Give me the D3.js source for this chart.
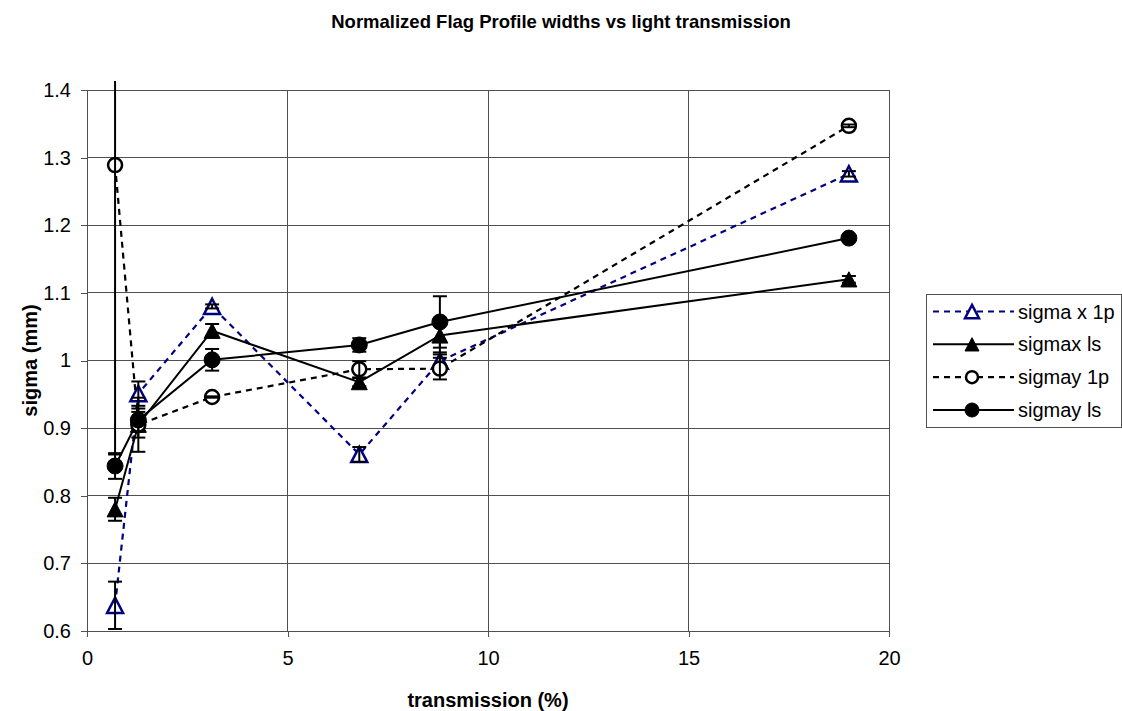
<!DOCTYPE html>
<html><head><meta charset="utf-8">
<script src="https://cdn.jsdelivr.net/npm/d3@7"></script>
<style>body{margin:0;background:#fff}svg{display:block;font-family:"Liberation Sans",Arial,sans-serif}</style>
</head><body><svg id="c" width="1122" height="711"></svg>
<script>
const xValues = [0.7, 1.28, 3.12, 6.79, 8.8, 19.0];
const sigmaX1p = [0.638, 0.951, 1.080, 0.861, 0.999, 1.276];
const sigmaX1pErr = [0.035, 0.018, 0.003, 0.011, 0.01, 0.004];
const sigmaxLs = [0.780, 0.905, 1.044, 0.968, 1.037, 1.120];
const sigmaxLsErr = [0.017, 0.04, 0.01, 0.006, 0.025, 0.005];
const sigmay1p = [1.289, 0.905, 0.946, 0.987, 0.988, 1.347];
const sigmay1pErr = [0.428, 0.019, 0.001, 0.012, 0.016, 0.002];
const sigmayLs = [0.844, 0.912, 1.001, 1.023, 1.057, 1.181];
const sigmayLsErr = [0.019, 0.017, 0.016, 0.01, 0.038, 0.003];
const xTicks = [0, 5, 10, 15, 20];
const yTicks = [0.6, 0.7, 0.8, 0.9, 1.0, 1.1, 1.2, 1.3, 1.4];
const seriesNames = ["sigma x 1p", "sigmax ls", "sigmay 1p", "sigmay ls"];

const svg = d3.select("#c");
const L = 87, R = 889, T = 90, B = 631;
const x = d3.scaleLinear().domain([0, 20]).range([L, R]);
const y = d3.scaleLinear().domain([0.6, 1.4]).range([B, T]);

const series = [
  {name: seriesNames[0], v: sigmaX1p, e: sigmaX1pErr, color: "#000080", dash: "6,5", marker: "tri", fill: "#fff", lw: 2.2},
  {name: seriesNames[1], v: sigmaxLs, e: sigmaxLsErr, color: "#000", dash: null, marker: "tri", fill: "#000", lw: 2},
  {name: seriesNames[2], v: sigmay1p, e: sigmay1pErr, color: "#000", dash: "6,5", marker: "circ", fill: "#fff", lw: 2.2},
  {name: seriesNames[3], v: sigmayLs, e: sigmayLsErr, color: "#000", dash: null, marker: "circ", fill: "#000", lw: 2}
];

svg.append("defs").append("clipPath").attr("id", "clip")
  .append("rect").attr("x", L).attr("y", 81).attr("width", R - L).attr("height", B - 81);

// grid
const g = svg.append("g");
g.selectAll("line.h").data(yTicks).join("line")
  .attr("x1", L).attr("x2", R).attr("y1", d => y(d)).attr("y2", d => y(d))
  .attr("stroke", "#505050").attr("stroke-width", 1).attr("shape-rendering", "crispEdges");
g.selectAll("line.v").data(xTicks.slice(1)).join("line")
  .attr("x1", d => x(d)).attr("x2", d => x(d)).attr("y1", T).attr("y2", B)
  .attr("stroke", "#505050").attr("stroke-width", 1).attr("shape-rendering", "crispEdges");

// axes
const yAxis = svg.append("g").attr("transform", `translate(${L},0)`)
  .call(d3.axisLeft(y).tickValues(yTicks).tickSize(6).tickPadding(10)
    .tickFormat(d => d === 1 ? "1" : d3.format(".1f")(d)));
const xAxis = svg.append("g").attr("transform", `translate(0,${B})`)
  .call(d3.axisBottom(x).tickValues(xTicks).tickSize(6).tickPadding(14));
[yAxis, xAxis].forEach(a => {
  a.select(".domain").attr("stroke", "#505050").attr("shape-rendering", "crispEdges");
  a.selectAll(".tick line").attr("stroke", "#505050").attr("shape-rendering", "crispEdges");
  a.selectAll("text").attr("font-size", 20).attr("fill", "#000")
    .attr("font-family", '"Liberation Sans",Arial,sans-serif');
});
xAxis.select(".domain").attr("d", `M${L},0H${R}`);

// lines
const lineGen = d3.line().x((d, i) => x(xValues[i])).y(d => y(d));
series.forEach(s => {
  svg.append("path").attr("d", lineGen(s.v)).attr("fill", "none")
    .attr("stroke", s.color).attr("stroke-width", s.lw)
    .attr("stroke-dasharray", s.dash);
});

function drawMarker(sel, type, cx, cy, fill, stroke, size) {
  if (type === "tri") {
    const h = size * 0.95, w = size;
    sel.append("path").attr("d", `M${cx},${cy - h / 2}L${cx + w / 2},${cy + h / 2}L${cx - w / 2},${cy + h / 2}Z`)
      .attr("fill", fill).attr("stroke", stroke).attr("stroke-width", fill === "#fff" ? 2.5 : 1)
      .attr("stroke-linejoin", "miter");
  } else {
    sel.append("circle").attr("cx", cx).attr("cy", cy).attr("r", fill === "#fff" ? size / 2 - 1 : size / 2)
      .attr("fill", fill).attr("stroke", stroke).attr("stroke-width", fill === "#fff" ? 2.5 : 1);
  }
}

// markers and error bars
series.forEach(s => {
  const mg = svg.append("g");
  s.v.forEach((v, i) => drawMarker(mg, s.marker, x(xValues[i]), y(v), s.fill, s.color, 16));
  const eg = svg.append("g").attr("clip-path", "url(#clip)");
  s.v.forEach((v, i) => {
    const cx = x(xValues[i]), y1 = y(v + s.e[i]), y2 = y(v - s.e[i]);
    eg.append("line").attr("x1", cx).attr("x2", cx).attr("y1", y1).attr("y2", y2)
      .attr("stroke", "#000").attr("stroke-width", 2);
    [y1, y2].forEach(yy => eg.append("line").attr("x1", cx - 7).attr("x2", cx + 7)
      .attr("y1", yy).attr("y2", yy).attr("stroke", "#000").attr("stroke-width", 2));
  });
});

// titles
svg.append("text").attr("x", 561).attr("y", 28).attr("text-anchor", "middle")
  .attr("font-size", 18.5).attr("font-weight", "bold")
  .text("Normalized Flag Profile widths vs light transmission");
svg.append("text").attr("x", (L + R) / 2).attr("y", 707).attr("text-anchor", "middle")
  .attr("font-size", 20).attr("font-weight", "bold").text("transmission (%)");
svg.append("text").attr("transform", `translate(37,${(T + B) / 2}) rotate(-90)`)
  .attr("text-anchor", "middle").attr("font-size", 20).attr("font-weight", "bold").text("sigma (mm)");

// legend
const lg = svg.append("g");
lg.append("rect").attr("x", 926).attr("y", 294).attr("width", 195).attr("height", 133)
  .attr("fill", "#fff").attr("stroke", "#505050").attr("stroke-width", 1).attr("shape-rendering", "crispEdges");
const rowY = d3.scalePoint().domain(seriesNames).range([311.5, 410]);
series.forEach(s => {
  const yy = rowY(s.name);
  lg.append("line").attr("x1", 933).attr("x2", 1014).attr("y1", yy).attr("y2", yy)
    .attr("stroke", s.color).attr("stroke-width", s.lw).attr("stroke-dasharray", s.dash);
  drawMarker(lg, s.marker, 972, yy, s.fill, s.color, 14);
  lg.append("text").attr("x", 1018).attr("y", yy + 7).attr("font-size", 20).text(s.name);
});
</script></body></html>
